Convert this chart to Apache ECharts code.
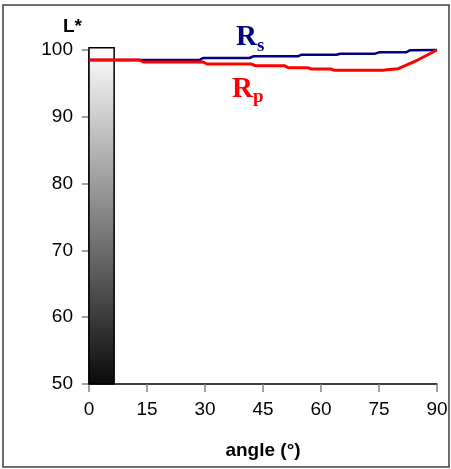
<!DOCTYPE html>
<html>
<head>
<meta charset="utf-8">
<script src="https://cdn.jsdelivr.net/npm/echarts@6/dist/echarts.min.js"></script>
<style>
  html, body { margin: 0; padding: 0; background: #fff; }
  #chart { width: 451px; height: 469px; }
</style>
</head>
<body>
<div id="chart"></div>
<script>
// ticks
var xTicks = [0, 15, 30, 45, 60, 75, 90];
var yTicks = [50, 60, 70, 80, 90, 100];

// Rs (blue) and Rp (red): [angle, L*]
var rsData = [
  [0, 98.5], [28.5, 98.5], [29.5, 98.8], [41.5, 98.8], [42.5, 99.05],
  [54, 99.05], [55, 99.3], [64, 99.3], [65, 99.45], [74, 99.45],
  [75, 99.65], [82, 99.65], [83, 99.95], [90, 100]
];
var rpData = [
  [0, 98.5], [13, 98.5], [14, 98.2], [29.5, 98.2], [30.5, 97.9],
  [42, 97.9], [43, 97.65], [50.5, 97.65], [51.5, 97.35], [56.5, 97.35],
  [57.5, 97.15], [62.5, 97.15], [63.5, 96.95], [76, 96.95], [77, 97.05],
  [80, 97.2], [85, 98.5], [90, 100]
];

// grey scale bar: [x0, x1, yBottom, yTop]
var scaleBar = [[0, 6.5, 50, 100.35]];

var chart = echarts.init(document.getElementById("chart"));
chart.setOption({
  backgroundColor: "#fff",
  animation: false,
  textStyle: { fontFamily: "Liberation Sans, Arial, sans-serif" },
  grid: { left: 89, right: 14, top: 50, bottom: 85 },
  xAxis: {
    type: "value",
    min: xTicks[0],
    max: xTicks[xTicks.length - 1],
    interval: 15,
    name: "angle (°)",
    nameLocation: "middle",
    nameGap: 57,
    nameTextStyle: { fontSize: 19, fontWeight: "bold", color: "#000" },
    axisLine: { lineStyle: { color: "#000", width: 1.5 } },
    axisTick: { length: 8, lineStyle: { color: "#808080", width: 1.5 } },
    axisLabel: { fontSize: 19, color: "#000", margin: 16 },
    splitLine: { show: false },
  },
  yAxis: {
    type: "value",
    min: yTicks[0],
    max: yTicks[yTicks.length - 1],
    interval: 10,
    name: "L*",
    nameGap: 14,
    nameTextStyle: { fontSize: 19, fontWeight: "bold", color: "#000", align: "right", padding: [0, 7, 0, 0] },
    axisLine: { show: true, lineStyle: { color: "#000", width: 1.5 } },
    axisTick: { length: 7, lineStyle: { color: "#808080", width: 1.5 } },
    axisLabel: { fontSize: 19, color: "#000", margin: 16 },
    splitLine: { show: false },
  },
  graphic: [
    {
      type: "rect",
      shape: { x: 3, y: 5, width: 446, height: 462 },
      style: { fill: "none", stroke: "#404040", lineWidth: 1.5 },
      silent: true,
    },
    {
      type: "text", left: 236, top: 23,
      style: { text: "R", font: "bold 29px 'Liberation Serif', 'Times New Roman', serif", fill: "#000080" },
    },
    {
      type: "text", left: 257, top: 37,
      style: { text: "s", font: "bold 19px 'Liberation Serif', 'Times New Roman', serif", fill: "#000080" },
    },
    {
      type: "text", left: 232, top: 75,
      style: { text: "R", font: "bold 29px 'Liberation Serif', 'Times New Roman', serif", fill: "#ff0000" },
    },
    {
      type: "text", left: 253, top: 88,
      style: { text: "p", font: "bold 19px 'Liberation Serif', 'Times New Roman', serif", fill: "#ff0000" },
    },
  ],
  series: [
    {
      type: "custom",
      data: scaleBar,
      clip: false,
      z: 1,
      renderItem: function (params, api) {
        var p0 = api.coord([api.value(0), api.value(3)]);
        var p1 = api.coord([api.value(1), api.value(2)]);
        return {
          type: "rect",
          shape: { x: p0[0], y: p0[1], width: p1[0] - p0[0], height: p1[1] - p0[1] },
          style: {
            fill: new echarts.graphic.LinearGradient(0, 0, 0, 1, [
              { offset: 0, color: "#ffffff" },
              { offset: 1, color: "#0a0a0a" },
            ]),
            stroke: "#000",
            lineWidth: 1.5,
          },
        };
      },
    },
    {
      name: "Rs",
      type: "line",
      data: rsData,
      clip: false,
      symbol: "none",
      z: 3,
      lineStyle: { color: "#000080", width: 2.5 },
    },
    {
      name: "Rp",
      type: "line",
      data: rpData,
      clip: false,
      symbol: "none",
      z: 4,
      lineStyle: { color: "#ff0000", width: 3 },
    },
  ],
});
</script>
</body>
</html>
